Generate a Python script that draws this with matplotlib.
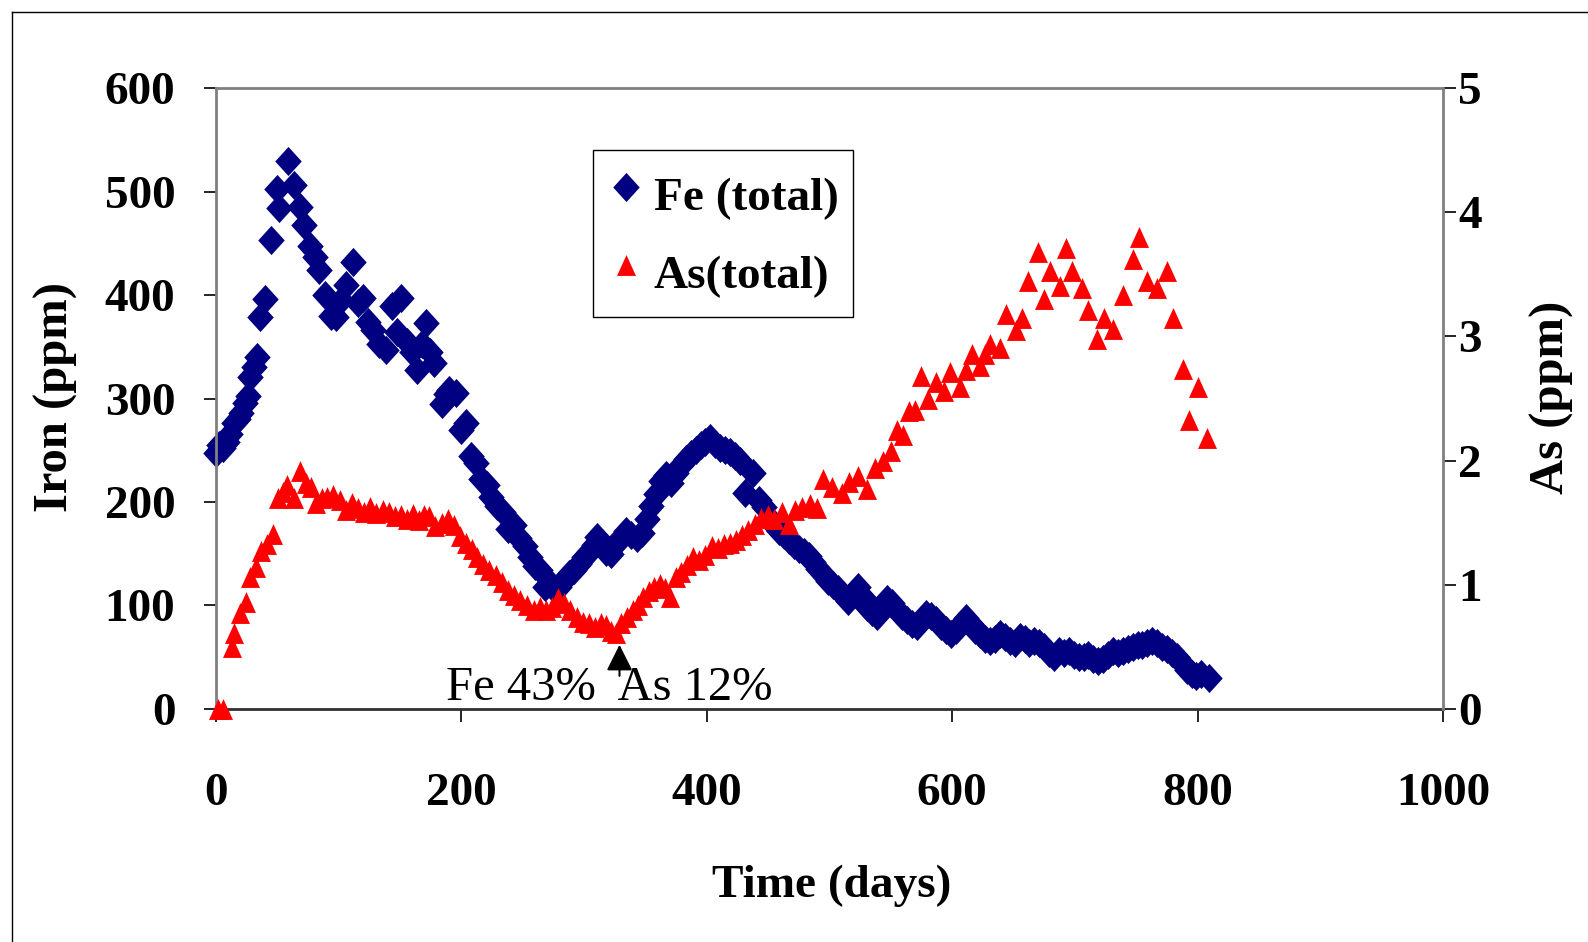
import matplotlib
matplotlib.use('Agg')
import matplotlib.pyplot as plt
from matplotlib.lines import Line2D

plt.rcParams['font.family'] = 'Liberation Serif'
plt.rcParams['font.weight'] = 'bold'

# Fe (total), ppm
fe_days = [0, 3, 6, 9, 12, 15, 18, 21, 24, 26, 28, 31, 34, 36, 40, 45, 50, 52, 59, 64,
           69, 72, 77, 81, 84, 89, 94, 98, 102, 106, 112, 116, 120, 124, 128, 133, 139, 144, 148, 151,
           156, 160, 164, 168, 171, 175, 178, 184, 188, 190, 196, 200, 204, 208, 212, 216, 221, 224, 229, 234,
           238, 243, 247, 252, 256, 260, 264, 268, 272, 276, 280, 284, 288, 292, 296, 300, 304, 308, 311, 315,
           318, 322, 326, 330, 334, 338, 343, 347, 351, 355, 359, 363, 367, 371, 375, 379, 383, 387, 391, 395,
           399, 403, 407, 411, 415, 419, 423, 427, 431, 438, 443, 447, 451, 455, 459, 463, 467, 471, 475, 479,
           483, 487, 491, 495, 499, 503, 507, 511, 515, 519, 523, 527, 531, 535, 539, 543, 547, 551, 555, 559,
           563, 567, 571, 575, 579, 583, 587, 591, 595, 599, 603, 607, 611, 615, 619, 623, 627, 631, 635, 639,
           643, 647, 651, 655, 659, 663, 667, 671, 675, 679, 683, 687, 691, 695, 699, 703, 707, 711, 715, 719,
           723, 727, 731, 735, 739, 743, 747, 751, 755, 759, 763, 767, 771, 775, 779, 783, 787, 791, 795, 799,
           803, 809]
fe_ppm = [247, 255, 252, 258, 266, 276, 280, 286, 296, 302, 321, 330, 340, 379, 396, 453, 502, 484, 530, 506,
          485, 468, 447, 437, 424, 400, 380, 379, 395, 410, 432, 392, 397, 374, 366, 353, 347, 389, 364, 397,
          355, 345, 328, 353, 373, 345, 334, 295, 304, 308, 305, 270, 276, 244, 238, 222, 216, 205, 196, 190,
          174, 178, 165, 157, 147, 138, 134, 118, 122, 116, 118, 125, 130, 134, 140, 147, 152, 158, 166, 160,
          152, 150, 160, 165, 172, 168, 165, 170, 184, 196, 208, 220, 226, 218, 228, 236, 242, 246, 250, 255,
          258, 262, 256, 252, 250, 248, 244, 240, 209, 228, 202, 195, 185, 178, 172, 168, 163, 158, 155, 152,
          148, 142, 135, 130, 124, 120, 116, 110, 104, 112, 118, 108, 99, 94, 90, 100, 106, 102, 96, 90,
          86, 82, 80, 86, 92, 90, 86, 80, 76, 72, 76, 82, 88, 82, 76, 72, 68, 66, 68, 72,
          70, 66, 64, 70, 68, 64, 66, 64, 60, 54, 50, 56, 54, 56, 52, 50, 50, 52, 48, 46,
          48, 52, 56, 54, 56, 58, 60, 62, 62, 64, 66, 64, 60, 58, 54, 50, 44, 38, 34, 32,
          34, 30]

# As (total), ppm
as_days = [2, 6, 13, 15, 20, 25, 28, 33, 37, 42, 47, 51, 55, 58, 64, 69, 74, 78, 82, 87,
           91, 96, 101, 106, 111, 116, 121, 126, 131, 136, 141, 146, 151, 156, 161, 166, 170, 174, 179, 184,
           189, 194, 199, 204, 209, 213, 218, 223, 228, 233, 238, 243, 248, 254, 259, 264, 269, 274, 279, 284,
           289, 294, 299, 304, 309, 314, 318, 322, 326, 330, 335, 340, 344, 348, 353, 357, 362, 366, 370, 375,
           379, 384, 389, 394, 399, 404, 409, 414, 419, 424, 429, 434, 439, 444, 450, 455, 461, 467, 472, 478,
           484, 490, 495, 502, 510, 516, 523, 531, 537, 544, 550, 555, 560, 565, 570, 575, 580, 587, 593, 598,
           606, 611, 616, 623, 627, 631, 639, 644, 652, 657, 662, 670, 675, 680, 688, 693, 698, 706, 711, 718,
           724, 731, 739, 747, 752, 759, 767, 775, 780, 788, 793, 800, 808]
as_ppm = [0.0, 0.0, 0.50, 0.61, 0.77, 0.86, 1.06, 1.14, 1.27, 1.33, 1.41, 1.70, 1.75, 1.80, 1.70, 1.92, 1.82, 1.79, 1.66, 1.70,
          1.71, 1.72, 1.68, 1.60, 1.66, 1.62, 1.59, 1.63, 1.58, 1.60, 1.59, 1.55, 1.56, 1.53, 1.57, 1.52, 1.56, 1.55, 1.47, 1.50,
          1.53, 1.48, 1.39, 1.34, 1.29, 1.22, 1.17, 1.12, 1.08, 1.02, 0.96, 0.92, 0.88, 0.84, 0.80, 0.82, 0.80, 0.82, 0.89, 0.85,
          0.80, 0.74, 0.70, 0.69, 0.66, 0.69, 0.68, 0.63, 0.61, 0.69, 0.74, 0.80, 0.84, 0.90, 0.95, 0.98, 1.01, 0.97, 0.90, 1.06,
          1.10, 1.16, 1.22, 1.20, 1.24, 1.31, 1.30, 1.33, 1.34, 1.36, 1.40, 1.44, 1.49, 1.54, 1.56, 1.53, 1.59, 1.49, 1.60, 1.63,
          1.65, 1.62, 1.85, 1.79, 1.74, 1.83, 1.88, 1.77, 1.94, 2.00, 2.08, 2.25, 2.21, 2.40, 2.41, 2.68, 2.50, 2.63, 2.56, 2.71,
          2.59, 2.73, 2.86, 2.76, 2.86, 2.94, 2.91, 3.18, 3.05, 3.15, 3.45, 3.68, 3.30, 3.53, 3.41, 3.71, 3.53, 3.39, 3.21, 2.98,
          3.15, 3.06, 3.33, 3.62, 3.80, 3.45, 3.39, 3.53, 3.15, 2.74, 2.33, 2.59, 2.18]

x_ticks = [0, 200, 400, 600, 800, 1000]
fe_ticks = [0, 100, 200, 300, 400, 500, 600]
as_ticks = [0, 1, 2, 3, 4, 5]

fig = plt.figure(figsize=(15.88, 9.42), dpi=100)
ax = fig.add_axes([0.1358, 0.2474, 0.7730, 0.6591])
ax2 = ax.twinx()

diamond = [(0, 1.1), (1, 0), (0, -1.1), (-1, 0), (0, 1.1)]
tri = [(0, 1), (0.91, -1), (-0.91, -1), (0, 1)]

fe_line, = ax.plot(fe_days, fe_ppm, ls='none', marker=diamond, ms=21, color='#000080',
                   mew=0, clip_on=False, label='Fe (total)')
as_line, = ax2.plot(as_days, as_ppm, ls='none', marker=tri, ms=15, color='#ff0000',
                    mew=0, clip_on=False, label='As(total)')

ax.set_xlim(0, 1000)
ax.set_ylim(0, 600)
ax2.set_ylim(0, 5)
ax.set_xticks(x_ticks)
ax.set_yticks(fe_ticks)
ax2.set_yticks(as_ticks)

ax.tick_params(axis='x', direction='out', length=9, width=1.2, pad=37, labelsize=34)
ax.tick_params(axis='y', direction='out', length=9, width=1.2, pad=20, labelsize=34)
ax2.tick_params(axis='y', direction='out', length=9, width=1.2, pad=2, labelsize=34)

for s in ['left', 'top']:
    ax.spines[s].set_color('#808080')
    ax.spines[s].set_linewidth(2)
ax.spines['bottom'].set_color('#303030')
ax.spines['bottom'].set_linewidth(2)
ax.spines['right'].set_visible(False)
for s in ['left', 'top', 'bottom']:
    ax2.spines[s].set_visible(False)
ax2.spines['right'].set_color('#808080')
ax2.spines['right'].set_linewidth(2)

fig.text(0.0353, 0.5785, 'Iron (ppm)', rotation=90, ha='center', va='center', fontsize=35)
fig.text(0.9770, 0.5785, 'As (ppm)', rotation=90, ha='center', va='center', fontsize=35)
fig.text(0.5236, 0.0600, 'Time (days)', ha='center', va='center', fontsize=34)

ax.annotate('', xy=(329, 62), xytext=(329, 32),
            arrowprops=dict(arrowstyle='-|>', color='black', lw=1.5, mutation_scale=40,
                            shrinkA=0, shrinkB=0))
ax.text(188, 8.6, 'Fe 43%  As 12%', ha='left', va='baseline', fontsize=35, fontweight='normal')

leg = ax2.legend([fe_line, as_line], ['Fe (total)', 'As(total)'], loc='upper left',
                 bbox_to_anchor=(0.3078, 0.9001), bbox_transform=ax.transAxes, borderaxespad=0,
                 fontsize=34, frameon=True, fancybox=False, edgecolor='black', framealpha=1,
                 borderpad=0.3, handlelength=0.77, handletextpad=0.21, labelspacing=0.36,
                 handleheight=1.6, numpoints=1)
leg.get_frame().set_linewidth(1)

# outer chart border
fig.add_artist(Line2D([12.2 / 1588, 12.2 / 1588], [0, 1 - 12.2 / 942], transform=fig.transFigure,
                      color='black', lw=1))
fig.add_artist(Line2D([12.2 / 1588, 1], [1 - 12.2 / 942, 1 - 12.2 / 942], transform=fig.transFigure,
                      color='black', lw=1))

fig.savefig('out.png', dpi=100)
